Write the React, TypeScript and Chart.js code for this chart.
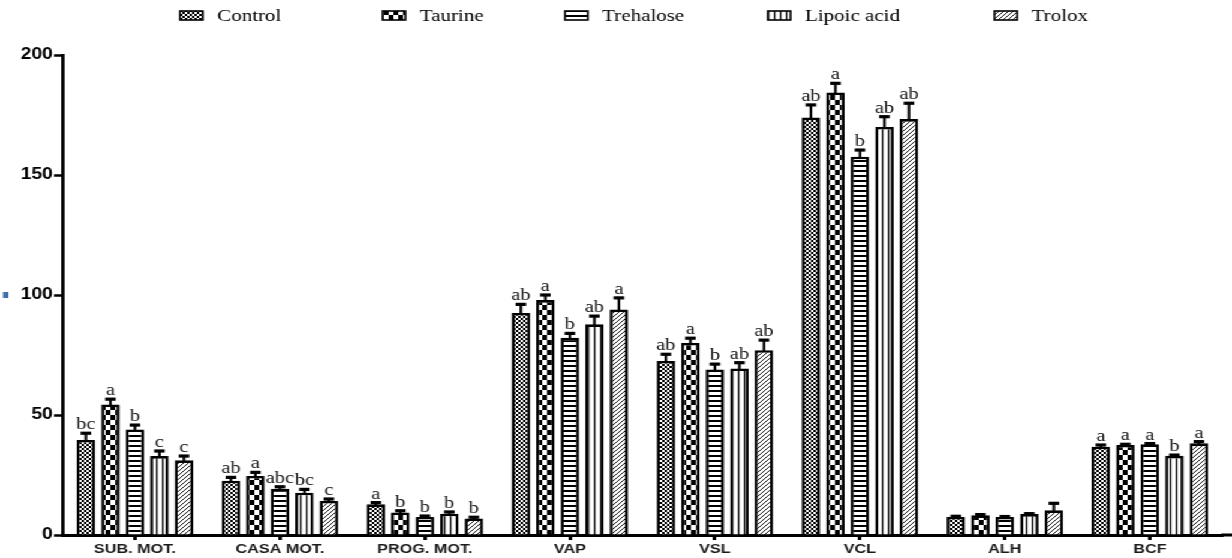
import { useEffect, useRef } from "react";
import { Chart, registerables } from "chart.js";

Chart.register(...registerables);

// Sperm motion parameters by treatment (mean, SEM and significance letters)
const categories = ["SUB. MOT.", "CASA MOT.", "PROG. MOT.", "VAP", "VSL", "VCL", "ALH", "BCF"];
const seriesNames = ["Control", "Taurine", "Trehalose", "Lipoic acid", "Trolox"];

const controlMeans = [39.6, 22.6, 12.8, 92.5, 72.5, 174.0, 7.5, 36.8];
const controlSem = [2.8, 1.4, 0.7, 3.6, 2.8, 5.2, 0.3, 0.7];
const controlLetters = ["bc", "ab", "a", "ab", "ab", "ab", "", "a"];

const taurineMeans = [54.4, 24.6, 9.4, 97.9, 80.0, 184.4, 8.2, 37.5];
const taurineSem = [2.2, 1.5, 0.7, 2.1, 2.0, 3.8, 0.3, 0.3];
const taurineLetters = ["a", "a", "b", "a", "a", "a", "", "a"];

const trehaloseMeans = [44.0, 19.3, 7.5, 82.2, 69.0, 157.6, 7.5, 37.8];
const trehaloseSem = [1.8, 0.8, 0.4, 1.8, 2.2, 2.8, 0.2, 0.3];
const trehaloseLetters = ["b", "abc", "b", "b", "b", "b", "", "a"];

const lipoicMeans = [32.9, 17.6, 8.9, 87.8, 69.4, 170.0, 8.7, 33.0];
const lipoicSem = [2.1, 1.4, 0.7, 3.4, 2.4, 4.3, 0.2, 0.3];
const lipoicLetters = ["c", "bc", "b", "ab", "ab", "ab", "", "b"];

const troloxMeans = [31.1, 14.2, 6.9, 94.0, 77.0, 173.3, 10.3, 38.2];
const troloxSem = [1.8, 0.8, 0.5, 4.8, 4.2, 6.6, 2.9, 0.7];
const troloxLetters = ["c", "c", "b", "a", "ab", "ab", "", "a"];

const yTicks = [0, 50, 100, 150, 200];

// The figure is drawn narrow and stretched sideways, like the original plot export.
const W = 1027;
const H = 558;
const SX = 1232 / W;

type PatternKind = "fineCheck" | "check" | "hlines" | "vlines" | "diag";

function makePattern(kind: PatternKind): CanvasPattern | string {
  const c = document.createElement("canvas");
  let w = 4;
  let h = 4;
  if (kind === "check") { w = 8; h = 10; }
  if (kind === "hlines") { w = 4; h = 5; }
  if (kind === "vlines") { w = 5; h = 4; }
  c.width = w;
  c.height = h;
  const g = c.getContext("2d");
  if (!g) return "#888";
  g.fillStyle = "#fff";
  g.fillRect(0, 0, w, h);
  g.fillStyle = "#000";
  g.strokeStyle = "#000";
  switch (kind) {
    case "fineCheck":
      g.fillRect(0, 0, 2, 2);
      g.fillRect(2, 2, 2, 2);
      break;
    case "check":
      g.fillRect(0, 0, 4, 5);
      g.fillRect(4, 5, 4, 5);
      break;
    case "hlines":
      g.fillRect(0, 0, w, 2);
      break;
    case "vlines":
      g.fillRect(0, 0, 1.3, h);
      break;
    case "diag":
      g.lineWidth = 0.9;
      g.beginPath();
      g.moveTo(-1, 5); g.lineTo(5, -1);
      g.moveTo(-1, 1); g.lineTo(1, -1);
      g.moveTo(3, 5); g.lineTo(5, 3);
      g.stroke();
      break;
  }
  const p = g.createPattern(c, "repeat");
  return p || "#888";
}

const legendX = [150, 319, 471, 640, 829];

const legendPlugin = {
  id: "patternLegend",
  afterDraw(chart: any) {
    const ctx = chart.ctx as CanvasRenderingContext2D;
    ctx.save();
    ctx.font = "17.5px 'Liberation Serif', 'Times New Roman', serif";
    ctx.textBaseline = "alphabetic";
    ctx.textAlign = "left";
    chart.data.datasets.forEach((ds: any, i: number) => {
      const x = legendX[i];
      ctx.fillStyle = ds.backgroundColor;
      ctx.fillRect(x, 11, 19, 9);
      ctx.strokeStyle = "#000";
      ctx.lineWidth = 1.6;
      ctx.strokeRect(x, 11, 19, 9);
      ctx.fillStyle = "#000";
      ctx.fillText(ds.label, x + 31, 21);
    });
    // small blue mark at the left margin
    ctx.fillStyle = "#3f70a8";
    ctx.fillRect(2.5, 292, 4.5, 6);
    // x axis line runs on to the right edge
    const a = chart.chartArea;
    ctx.fillStyle = "#000";
    ctx.fillRect(a.right - 1, a.bottom - 1.5, W - a.right + 1, 3);
    ctx.restore();
  },
};

const errorBarPlugin = {
  id: "semBars",
  afterDatasetsDraw(chart: any) {
    const ctx = chart.ctx as CanvasRenderingContext2D;
    const y = chart.scales.y;
    ctx.save();
    ctx.font = "17px 'Liberation Serif', 'Times New Roman', serif";
    ctx.textAlign = "center";
    ctx.textBaseline = "alphabetic";
    chart.data.datasets.forEach((ds: any, i: number) => {
      const meta = chart.getDatasetMeta(i);
      meta.data.forEach((bar: any, j: number) => {
        const v = ds.data[j] as number;
        const e = ds.sem[j] as number;
        const top = y.getPixelForValue(v + e);
        ctx.fillStyle = "#000";
        ctx.fillRect(bar.x - 1.1, top, 2.2, bar.y - top + 1);
        ctx.fillRect(bar.x - 4.4, top - 1.6, 8.8, 3.2);
        const letter = ds.letters[j] as string;
        if (letter) {
          ctx.fillStyle = "#111";
          ctx.fillText(letter, bar.x, top - 4);
        }
      });
    });
    ctx.restore();
  },
};

export default function App() {
  const canvasRef = useRef<HTMLCanvasElement | null>(null);

  useEffect(() => {
    const canvas = canvasRef.current;
    if (!canvas) return;
    const patterns = [
      makePattern("fineCheck"),
      makePattern("check"),
      makePattern("hlines"),
      makePattern("vlines"),
      makePattern("diag"),
    ];
    const means = [controlMeans, taurineMeans, trehaloseMeans, lipoicMeans, troloxMeans];
    const sems = [controlSem, taurineSem, trehaloseSem, lipoicSem, troloxSem];
    const letters = [controlLetters, taurineLetters, trehaloseLetters, lipoicLetters, troloxLetters];

    const chart = new Chart(canvas, {
      type: "bar",
      data: {
        labels: categories,
        datasets: seriesNames.map((name, i) => ({
          label: name,
          data: means[i],
          sem: sems[i],
          letters: letters[i],
          backgroundColor: patterns[i] as any,
          borderColor: "#000",
          borderWidth: 2.6,
          categoryPercentage: 0.845,
          barPercentage: 0.755,
        })) as any,
      },
      options: {
        responsive: false,
        animation: false,
        devicePixelRatio: 1,
        layout: { padding: { top: 55, right: 8, left: 0, bottom: 0 } },
        plugins: {
          legend: { display: false },
          tooltip: { enabled: false },
        },
        scales: {
          x: {
            offset: true,
            grid: {
              offset: false,
              drawOnChartArea: false,
              drawTicks: true,
              tickLength: 5,
              tickWidth: 3,
              tickColor: "#000",
            },
            border: { display: true, color: "#000", width: 3 },
            ticks: {
              color: "#1a1a1a",
              padding: 1,
              autoSkip: false,
              maxRotation: 0,
              font: { family: "'Liberation Sans', Arial, sans-serif", size: 13.5, weight: "bold" },
            },
            afterFit(scale: any) {
              scale.height = 23;
            },
          },
          y: {
            min: 0,
            max: 200,
            afterBuildTicks(scale: any) {
              scale.ticks = yTicks.map((v) => ({ value: v }));
            },
            grid: {
              drawOnChartArea: false,
              drawTicks: true,
              tickLength: 7,
              tickWidth: 2.5,
              tickColor: "#000",
            },
            border: { display: true, color: "#000", width: 2.8 },
            ticks: {
              color: "#000",
              padding: 1,
              font: { family: "'Liberation Sans', Arial, sans-serif", size: 16, weight: "bold" },
            },
            afterFit(scale: any) {
              scale.width = 52;
            },
          },
        },
      } as any,
      plugins: [errorBarPlugin, legendPlugin],
    });
    return () => chart.destroy();
  }, []);

  return (
    <div
      style={{
        position: "absolute",
        left: 0,
        top: 0,
        width: W,
        height: H,
        background: "#fff",
        transform: `scaleX(${SX})`,
        transformOrigin: "0 0",
      }}
    >
      <canvas ref={canvasRef} width={W} height={H} style={{ width: W, height: H, display: "block" }} />
    </div>
  );
}
